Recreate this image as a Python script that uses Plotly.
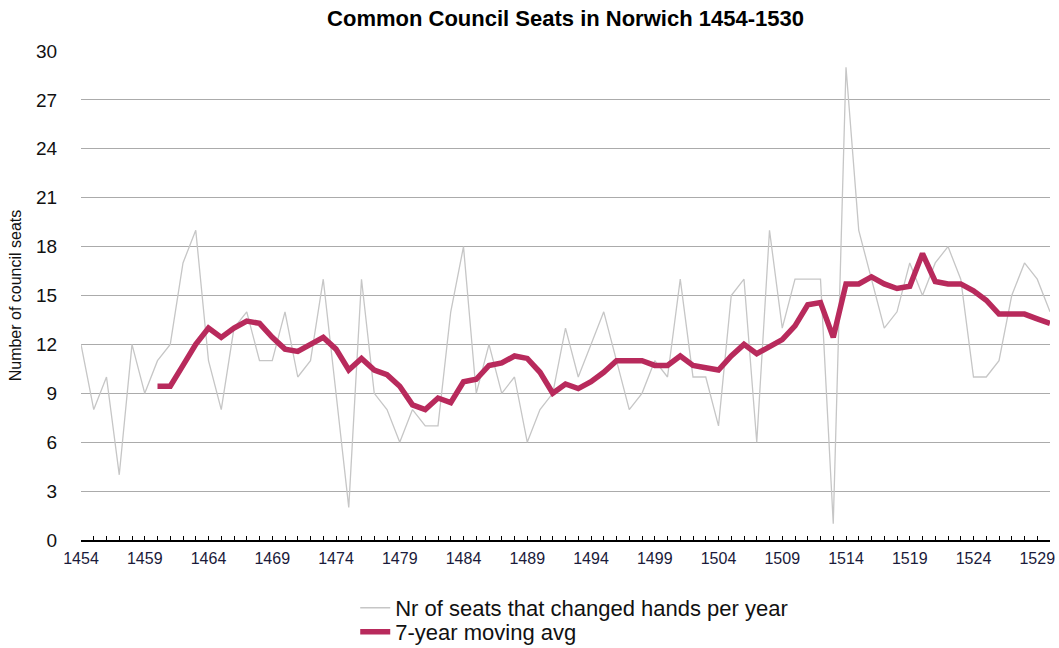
import plotly.graph_objects as go

years = list(range(1454, 1531))
seats_changed = [12, 8, 10, 4, 12, 9, 11, 12, 17, 19,
                 11, 8, 13, 14, 11, 11, 14, 10, 11, 16,
                 9, 2, 16, 9, 8, 6, 8, 7, 7, 14,
                 18, 9, 12, 9, 10, 6, 8, 9, 13, 10,
                 12, 14, 11, 8, 9, 11, 10, 16, 10, 10,
                 7, 15, 16, 6, 19, 13, 16, 16, 16, 1,
                 29, 19, 16, 13, 14, 17, 15, 17, 18, 16,
                 10, 10, 11, 15, 17, 16, 14]

ma_years = list(range(1460, 1531))
moving_avg = [9.43, 9.43, 10.71, 12.0, 13.0, 12.43, 13.0, 13.43, 13.29, 12.43,
              11.71, 11.57, 12.0, 12.43, 11.71, 10.43, 11.14, 10.43, 10.14, 9.43,
              8.29, 8.0, 8.71, 8.43, 9.71, 9.86, 10.71, 10.86, 11.29, 11.14,
              10.29, 9.0, 9.57, 9.29, 9.71, 10.29, 11.0, 11.0, 11.0, 10.71,
              10.71, 11.29, 10.71, 10.57, 10.43, 11.29, 12.0, 11.43, 11.86, 12.29,
              13.14, 14.43, 14.57, 12.43, 15.71, 15.71, 16.14, 15.71, 15.43, 15.57,
              17.57, 15.86, 15.71, 15.71, 15.29, 14.71, 13.86, 13.86, 13.86, 13.57,
              13.29]

FONT = "Liberation Sans, Arial, sans-serif"

fig = go.Figure()
fig.add_trace(go.Scatter(x=years, y=seats_changed, mode="lines",
                         name="Nr of seats that changed hands per year",
                         legend="legend",
                         line=dict(color="#c6c6c6", width=1.3)))
fig.add_trace(go.Scatter(x=ma_years, y=moving_avg, mode="lines",
                         name="7-year moving avg",
                         legend="legend2",
                         line=dict(color="#b82a5c", width=5.5)))

legend_common = dict(orientation="v", xanchor="left", yanchor="top",
                     font=dict(size=22, family=FONT, color="#111"),
                     bgcolor="rgba(0,0,0,0)", itemwidth=30)

fig.update_layout(
    width=1059, height=648,
    margin=dict(l=81, r=9, t=51, b=108, autoexpand=False),
    paper_bgcolor="white", plot_bgcolor="white",
    font=dict(family=FONT, color="#1a1a2a"),
    title=dict(text="<b>Common Council Seats in Norwich 1454-1530</b>",
               x=0.5, xref="paper", xanchor="center", y=0.972, yanchor="middle",
               font=dict(size=22, family=FONT, color="#000")),
    showlegend=True,
    legend=dict(x=0.283, y=-0.096, **legend_common),
    legend2=dict(x=0.283, y=-0.145, **legend_common),
    xaxis=dict(range=[1454, 1530], tickmode="linear", tick0=1454, dtick=5,
               showgrid=False, zeroline=False,
               showline=True, linecolor="#000", linewidth=1.5,
               ticks="inside", ticklen=4, tickwidth=1, tickcolor="#000",
               ticklabelstandoff=3,
               tickfont=dict(size=16, family=FONT, color="#1a1a3a"),
               minor=dict(dtick=1, tick0=1454, ticks="inside", ticklen=4,
                          tickwidth=1, tickcolor="#000", showgrid=False)),
    yaxis=dict(range=[0, 30], tickmode="linear", tick0=0, dtick=3,
               showgrid=True, gridcolor="#ababab", gridwidth=1.4,
               zeroline=False, showline=False,
               ticks="outside", ticklen=19, tickcolor="rgba(0,0,0,0)",
               tickfont=dict(size=19, family=FONT, color="#111"),
               title=dict(text="Number of council seats", standoff=10,
                          font=dict(size=16, family=FONT, color="#111"))),
)

fig.write_html("out.html",
               config={"displayModeBar": False},
               post_script="document.body.style.margin='0';document.body.style.overflow='hidden';")
